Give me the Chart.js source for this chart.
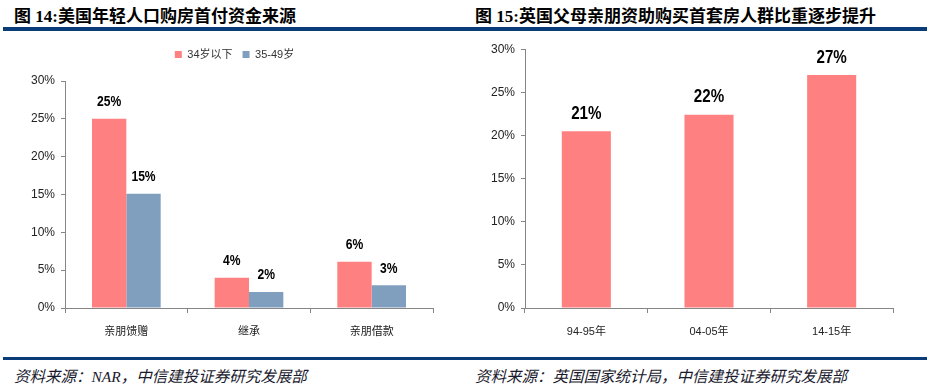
<!DOCTYPE html>
<html>
<head>
<meta charset="utf-8">
<script src="https://cdn.jsdelivr.net/npm/chart.js@4/dist/chart.umd.min.js"></script>
<style>
  body { margin: 0; width: 927px; height: 390px; background: #fff; position: relative; overflow: hidden; }
  .title { position: absolute; top: 2px; font: bold 17px "Liberation Serif", "Noto Sans CJK SC", serif; color: #000; white-space: nowrap; }
  .rule { position: absolute; height: 3.5px; background: #0a3c7a; }
  .src { position: absolute; top: 364px; font: italic 15.5px "Liberation Serif", "Noto Sans CJK SC", serif; color: #1a1a2e; white-space: nowrap; }
  .box { position: absolute; top: 36px; height: 312px; }
</style>
</head>
<body>
<div class="title" style="left:14px">图 14:美国年轻人口购房首付资金来源</div>
<div class="title" style="left:475px">图 15:英国父母亲朋资助购买首套房人群比重逐步提升</div>
<div class="rule" style="left:3px; width:924px; top:27px"></div>
<div class="rule" style="left:3px; width:924px; top:357px; height:3px"></div>
<div class="src" style="left:14px">资料来源：NAR，中信建投证券研究发展部</div>
<div class="src" style="left:475px">资料来源：英国国家统计局，中信建投证券研究发展部</div>

<div class="box" style="left:0; width:463px"><canvas id="leftChart"></canvas></div>
<div class="box" style="left:463px; width:464px"><canvas id="rightChart"></canvas></div>

<script>
// 图14 数据
const sourceCats = ["亲朋馈赠", "继承", "亲朋借款"];
const ageGroups = ["34岁以下", "35-49岁"];
const under34 = [25, 4, 6.1];
const age35to49 = [15.1, 2.1, 3];

// 图15 数据
const periods = ["94-95年", "04-05年", "14-15年"];
const parentShare = [20.5, 22.4, 27];

const RED = "#ff8080";
const BLUE = "#809fbf";
const AXIS = "#868686";

Chart.defaults.font.family = '"Liberation Sans", "Noto Sans CJK SC", sans-serif';
Chart.defaults.color = "#222";
Chart.defaults.animation = false;

// 柱子上方的百分比标签（横向压窄一点，像原图的窄体字）
const barLabels = {
  id: "barLabels",
  afterDatasetsDraw(chart, args, opts) {
    const ctx = chart.ctx;
    chart.data.datasets.forEach((ds, i) => {
      chart.getDatasetMeta(i).data.forEach((bar, j) => {
        ctx.save();
        ctx.font = `bold ${opts.size}px "Liberation Sans", sans-serif`;
        ctx.fillStyle = "#000";
        ctx.textAlign = "center";
        ctx.textBaseline = "middle";
        ctx.translate(bar.x, bar.y - opts.offset);
        ctx.scale(opts.squeeze, 1);
        ctx.fillText(Math.round(ds.data[j]) + "%", 0, 0);
        ctx.restore();
      });
    });
  }
};

// 图例和绘图区之间多留一点空，并稍微右移
const legendGap = {
  id: "legendGap",
  beforeInit(chart) {
    const fit = chart.legend.fit;
    chart.legend.fit = function () {
      fit.bind(chart.legend)();
      this.height += 11;
    };
  },
  afterLayout(chart) {
    chart.legend.left += 18;
    chart.legend.right += 18;
  }
};

function axes(yWidth) {
  return {
    x: {
      grid: { display: true, drawOnChartArea: false, drawTicks: true, tickLength: 5, color: AXIS, offset: true },
      border: { display: true, color: AXIS, width: 1 },
      ticks: { font: { size: 11 }, color: "#222", padding: 12 },
      afterFit: (s) => { s.height = 40; }
    },
    y: {
      min: 0,
      max: 30,
      grid: { display: true, drawOnChartArea: false, drawTicks: true, tickLength: 4, color: AXIS },
      border: { display: true, color: AXIS, width: 1 },
      ticks: { stepSize: 5, font: { size: 12 }, color: "#222", padding: 6, callback: (v) => v + "%" },
      afterFit: (s) => { s.width = yWidth; }
    }
  };
}

new Chart(document.getElementById("leftChart"), {
  type: "bar",
  data: {
    labels: sourceCats,
    datasets: [
      { label: ageGroups[0], data: under34, backgroundColor: RED, categoryPercentage: 0.56, barPercentage: 1 },
      { label: ageGroups[1], data: age35to49, backgroundColor: BLUE, categoryPercentage: 0.56, barPercentage: 1 }
    ]
  },
  options: {
    responsive: true,
    maintainAspectRatio: false,
    layout: { padding: { top: 3, right: 30, left: 0, bottom: 0 } },
    scales: axes(65),
    plugins: {
      legend: {
        position: "top",
        labels: { boxWidth: 7, boxHeight: 7, padding: 10, color: "#333", font: { size: 11 } }
      },
      tooltip: { enabled: false },
      barLabels: { size: 15.5, offset: 17, squeeze: 0.78 }
    }
  },
  plugins: [barLabels, legendGap]
});

new Chart(document.getElementById("rightChart"), {
  type: "bar",
  data: {
    labels: periods,
    datasets: [
      { label: "比重", data: parentShare, backgroundColor: RED, categoryPercentage: 0.4, barPercentage: 1 }
    ]
  },
  options: {
    responsive: true,
    maintainAspectRatio: false,
    layout: { padding: { top: 13, right: 34, left: 0, bottom: 0 } },
    scales: axes(62),
    plugins: {
      legend: { display: false },
      tooltip: { enabled: false },
      barLabels: { size: 18.5, offset: 17.5, squeeze: 0.82 }
    }
  },
  plugins: [barLabels]
});
</script>
</body>
</html>
